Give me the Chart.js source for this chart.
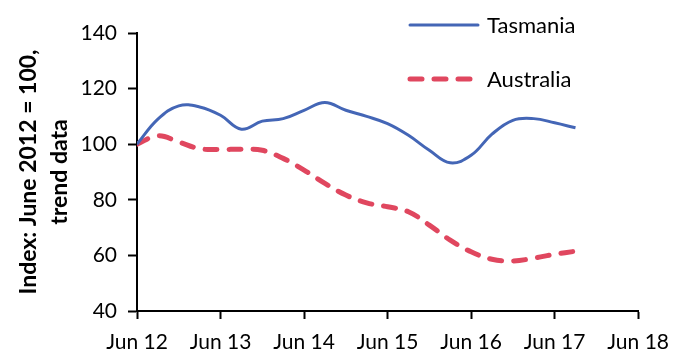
<!DOCTYPE html>
<html>
<head>
<meta charset="utf-8">
<script src="https://cdn.jsdelivr.net/npm/chart.js@4/dist/chart.umd.min.js"></script>
<style>
  html, body { margin: 0; padding: 0; background: #fff; }
  #wrap { width: 680px; height: 354px; position: relative; }
</style>
</head>
<body>
<div id="wrap"><canvas id="chart"></canvas></div>
<script>
// quarterly index, June 2012 = 100 (Jun 12 .. Sep 17)
const tasmania = [100, 109, 113.8, 113.4, 110.4, 105.4, 108.3, 109.2, 112.2, 115, 112.2, 110,
  107.4, 103.2, 97.8, 93.3, 96, 103.6, 108.6, 109.2, 107.7, 105.9];
const australia = [100, 103, 100.8, 98.4, 98.1, 98.2, 97.8, 94.9, 90.7, 85.9, 81.7, 78.9,
  77.5, 75.7, 70.9, 65.5, 61.3, 58.6, 58, 59, 60.4, 61.5];
const tickLabels = ['Jun 12', 'Jun 13', 'Jun 14', 'Jun 15', 'Jun 16', 'Jun 17', 'Jun 18'];
const seriesNames = ['Tasmania', 'Australia'];

const blue = '#4466b6';
const red = '#e0475f';
const font = 'Lato, "DejaVu Sans", sans-serif';

const toPoints = values => values.map((v, i) => ({x: i, y: v}));

// legend sits inside the plot, top right
const legendPlugin = {
  id: 'insideLegend',
  afterDraw(chart) {
    const ctx = chart.ctx;
    const rows = [
      {name: seriesNames[0], color: blue, width: 3, dash: [], y: 25},
      {name: seriesNames[1], color: red, width: 5, dash: [12, 12], y: 79}
    ];
    ctx.save();
    rows.forEach(r => {
      ctx.beginPath();
      ctx.strokeStyle = r.color;
      ctx.lineWidth = r.width;
      ctx.lineCap = 'round';
      ctx.setLineDash(r.dash);
      ctx.moveTo(410, r.y);
      ctx.lineTo(478, r.y);
      ctx.stroke();
      ctx.setLineDash([]);
      ctx.fillStyle = '#000';
      ctx.font = '22px ' + font;
      ctx.textBaseline = 'middle';
      ctx.fillText(r.name, 487, r.y + 1);
    });
    ctx.restore();
  }
};

new Chart(document.getElementById('chart'), {
  type: 'line',
  data: {
    datasets: [{
      label: seriesNames[0],
      data: toPoints(tasmania),
      borderColor: blue,
      borderWidth: 3,
      tension: 0.4,
      pointRadius: 0
    }, {
      label: seriesNames[1],
      data: toPoints(australia),
      borderColor: red,
      borderWidth: 5,
      borderDash: [12, 12],
      borderCapStyle: 'round',
      tension: 0.4,
      pointRadius: 0
    }]
  },
  options: {
    responsive: true,
    maintainAspectRatio: false,
    animation: false,
    layout: {padding: {top: 33, right: 33, left: 0, bottom: 0}},
    plugins: {legend: {display: false}, tooltip: {enabled: false}},
    scales: {
      x: {
        type: 'linear',
        min: 0,
        max: 24,
        afterFit: s => { s.height = 43; },
        afterBuildTicks: s => { s.ticks = tickLabels.map((_, i) => ({value: i * 4})); },
        ticks: {
          color: '#000',
          font: {family: font, size: 21},
          padding: 11,
          maxRotation: 0,
          callback: v => tickLabels[v / 4]
        },
        grid: {drawOnChartArea: false, drawTicks: true, tickLength: 8, tickColor: '#000', tickWidth: 2},
        border: {color: '#000', width: 2}
      },
      y: {
        min: 40,
        max: 140,
        afterFit: s => { s.width = 137; },
        ticks: {
          stepSize: 20,
          color: '#000',
          font: {family: font, size: 21},
          padding: 11
        },
        grid: {drawOnChartArea: false, drawTicks: true, tickLength: 9, tickColor: '#000', tickWidth: 2},
        border: {color: '#000', width: 2},
        title: {
          display: true,
          text: ['Index: June 2012 = 100,', 'trend data'],
          color: '#000',
          font: {family: font, size: 23, weight: 'bold', lineHeight: 1.35},
          padding: {top: 13, bottom: 0}
        }
      }
    }
  },
  plugins: [legendPlugin]
});
</script>
</body>
</html>
